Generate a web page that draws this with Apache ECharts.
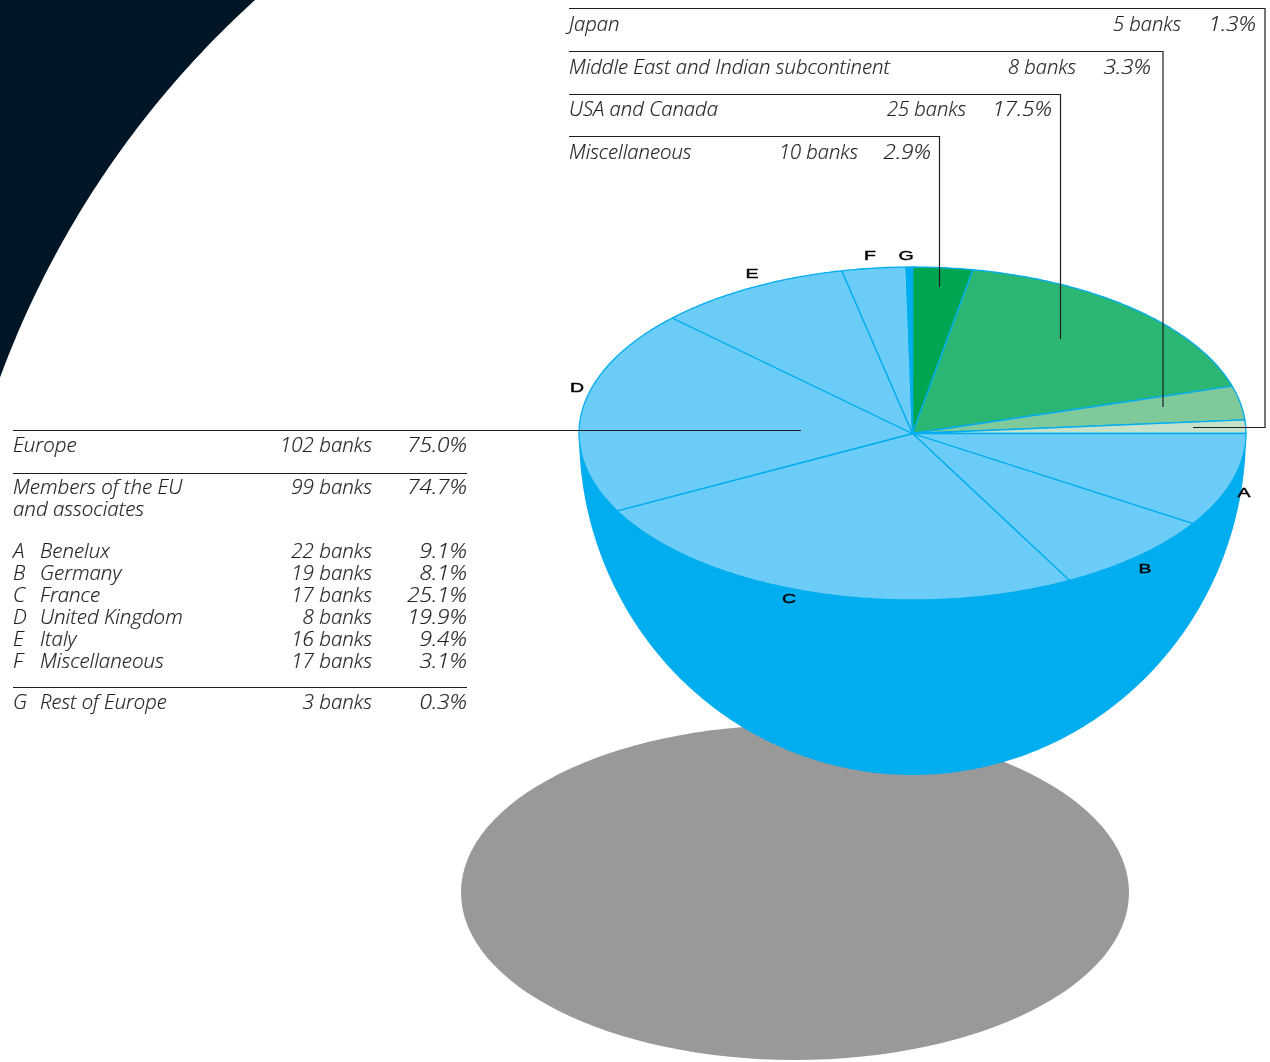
<!DOCTYPE html>
<html>
<head>
<meta charset="utf-8">
<style>html,body{margin:0;padding:0;background:#fff}#chart{width:1270px;height:1062px}</style>
<script src="https://cdn.jsdelivr.net/npm/echarts@6/dist/echarts.min.js"></script>
</head>
<body>
<div id="chart"></div>
<script>
// Slices clockwise from twelve o'clock: share of capital in percent.
const sliceKeys = ['Miscellaneous', 'USA and Canada', 'Middle East', 'Japan', 'A', 'B', 'C', 'D', 'E', 'F', 'G'];
const sliceShares = [2.9, 17.5, 3.3, 1.3, 9.1, 8.1, 25.1, 19.9, 9.4, 3.1, 0.3];
const sliceColors = ['#00a651', '#2bb673', '#80c99b', '#c3e2c9', '#6bcdf7', '#6bcdf7', '#6bcdf7', '#6bcdf7', '#6bcdf7', '#6bcdf7', '#00adef'];

// Regions listed above the pie.
const outerNames = ['Japan', 'Middle East and Indian subcontinent', 'USA and Canada', 'Miscellaneous'];
const outerBanks = ['5 banks', '8 banks', '25 banks', '10 banks'];
const outerShares = ['1.3%', '3.3%', '17.5%', '2.9%'];

// European breakdown listed beside the pie.
const europeLetters = ['A', 'B', 'C', 'D', 'E', 'F'];
const europeNames = ['Benelux', 'Germany', 'France', 'United Kingdom', 'Italy', 'Miscellaneous'];
const europeBanks = ['22 banks', '19 banks', '17 banks', '8 banks', '16 banks', '17 banks'];
const europeShares = ['9.1%', '8.1%', '25.1%', '19.9%', '9.4%', '3.1%'];

const PIE = { cx: 912.5, cy: 433.5, rx: 333.5, ry: 166.5, bowl: 341.5 };
const INK = '#1c1e20';
const BLUE = '#00adef';
const FONT = '"Open Sans", "Noto Sans", sans-serif';
const SHARE_STRETCH = 1.1;

const total = sliceShares.reduce((a, b) => a + b, 0);

function rim(fromShare, toShare) {
  // Points along the elliptical top edge between two cumulative shares.
  const pts = [];
  const a0 = fromShare / total * Math.PI * 2;
  const a1 = toShare / total * Math.PI * 2;
  const steps = Math.max(2, Math.ceil((a1 - a0) / 0.01));
  for (let i = 0; i <= steps; i++) {
    const a = a0 + (a1 - a0) * i / steps;
    pts.push([PIE.cx + PIE.rx * Math.sin(a), PIE.cy - PIE.ry * Math.cos(a)]);
  }
  return pts;
}

function renderSlice(params, api) {
  const i = params.dataIndex;
  const start = sliceShares.slice(0, i).reduce((a, b) => a + b, 0);
  const points = [[PIE.cx, PIE.cy]].concat(rim(start, start + api.value(0)));
  return {
    type: 'polygon',
    shape: { points },
    style: { fill: sliceColors[i], stroke: BLUE, lineWidth: 1.3, lineJoin: 'round' }
  };
}

function renderBody() {
  // Shadow first, then the bowl hanging under the rim.
  const bowl = [];
  for (let d = 0; d <= 180; d++) {
    const a = d * Math.PI / 180;
    bowl.push([PIE.cx + PIE.rx * Math.cos(a), PIE.cy + PIE.bowl * Math.sin(a)]);
  }
  return {
    type: 'group',
    children: [
      { type: 'ellipse', shape: { cx: 795, cy: 892.5, rx: 334, ry: 167.5 }, style: { fill: '#999999' } },
      { type: 'polygon', shape: { points: bowl }, style: { fill: BLUE } }
    ]
  };
}

function cornerPanel() {
  // Dark corner bounded by a large circular arc, running just past the page edge.
  const cx = 896, cy = 708, r = 955;
  const a0 = Math.atan2(0 - cy, 255 - cx);
  const a1 = Math.atan2(377 - cy, 0 - cx);
  const pts = [[-4, -4], [256, -4]];
  for (let i = 0; i <= 120; i++) {
    const a = a0 + (a1 + (a1 > 0 ? -2 * Math.PI : 0) - a0) * i / 120;
    pts.push([cx + r * Math.cos(a), cy + r * Math.sin(a)]);
  }
  pts.push([-4, 386]);
  return pts;
}

function label(text, x, y, align, scaleX) {
  return {
    type: 'text', x, y, z: 20, scaleX: scaleX || 1, silent: true,
    style: {
      text, x: 0, y: 0, align, verticalAlign: 'middle',
      font: 'italic 300 20.5px ' + FONT, fill: INK,
      stroke: INK, lineWidth: 0.2
    }
  };
}

function leader(points) {
  return {
    type: 'polyline', z: 15, silent: true,
    shape: { points },
    style: { stroke: INK, lineWidth: 1.2, fill: null }
  };
}

function letter(text, x, y) {
  return {
    type: 'text', x, y, z: 20, scaleX: 1.5, silent: true,
    style: {
      text, x: 0, y: 0, align: 'center', verticalAlign: 'middle',
      font: '13px "Liberation Sans", sans-serif', fill: '#000',
      stroke: '#000', lineWidth: 0.4
    }
  };
}

const elements = [
  { type: 'polygon', z: 1, silent: true, shape: { points: cornerPanel() }, style: { fill: '#001526' } },
  leader([[569, 8.5], [1265, 8.5], [1265, 427.5], [1193, 427.5]]),
  leader([[569, 51.5], [1163, 51.5], [1163, 407]]),
  leader([[569, 94.5], [1060.5, 94.5], [1060.5, 339]]),
  leader([[569, 136.5], [939.5, 136.5], [939.5, 287]]),
  leader([[13, 430.5], [801, 430.5]]),
  leader([[13, 473.5], [467, 473.5]]),
  leader([[13, 687.5], [467, 687.5]])
];

const outerY = [25, 68, 110, 153];
const outerBankRight = [1181, 1076, 966, 858];
const outerShareRight = [1256, 1151, 1052, 931];
outerNames.forEach((name, i) => {
  elements.push(label(name, 569, outerY[i], 'left', 0.99));
  elements.push(label(outerBanks[i], outerBankRight[i], outerY[i], 'right', 0.98));
  elements.push(label(outerShares[i], outerShareRight[i], outerY[i], 'right', SHARE_STRETCH));
});

const bankRight = 372;
const shareRight = 467;
elements.push(label('Europe', 13, 446, 'left'));
elements.push(label('102 banks', bankRight, 446, 'right'));
elements.push(label('75.0%', shareRight, 446, 'right', SHARE_STRETCH));
elements.push(label('Members of the EU', 13, 488, 'left'));
elements.push(label('and associates', 13, 510, 'left'));
elements.push(label('99 banks', bankRight, 488, 'right'));
elements.push(label('74.7%', shareRight, 488, 'right', SHARE_STRETCH));

const rowY = [552, 574, 596, 618, 640, 662];
europeNames.forEach((name, i) => {
  elements.push(label(europeLetters[i], 13, rowY[i], 'left'));
  elements.push(label(name, 40, rowY[i], 'left'));
  elements.push(label(europeBanks[i], bankRight, rowY[i], 'right'));
  elements.push(label(europeShares[i], shareRight, rowY[i], 'right', SHARE_STRETCH));
});
elements.push(label('G', 13, 703, 'left'));
elements.push(label('Rest of Europe', 40, 703, 'left', 0.985));
elements.push(label('3 banks', bankRight, 703, 'right'));
elements.push(label('0.3%', shareRight, 703, 'right', SHARE_STRETCH));

// Letter keys around the pie, wide-set like the printed captions.
[['A', 1244, 493], ['B', 1145, 569], ['C', 789, 599], ['D', 577, 388],
 ['E', 752, 274], ['F', 870, 256], ['G', 906, 256]].forEach(k => elements.push(letter(k[0], k[1], k[2])));

const chart = echarts.init(document.getElementById('chart'), null, { renderer: 'canvas' });
chart.setOption({
  animation: false,
  backgroundColor: '#ffffff',
  graphic: { elements },
  series: [
    {
      type: 'custom', coordinateSystem: 'none', z: 2, silent: true,
      renderItem: renderBody, data: [0]
    },
    {
      type: 'custom', coordinateSystem: 'none', z: 3, silent: true,
      renderItem: renderSlice,
      data: sliceShares.map((v, i) => ({ name: sliceKeys[i], value: [v] }))
    }
  ]
});
</script>
</body>
</html>
